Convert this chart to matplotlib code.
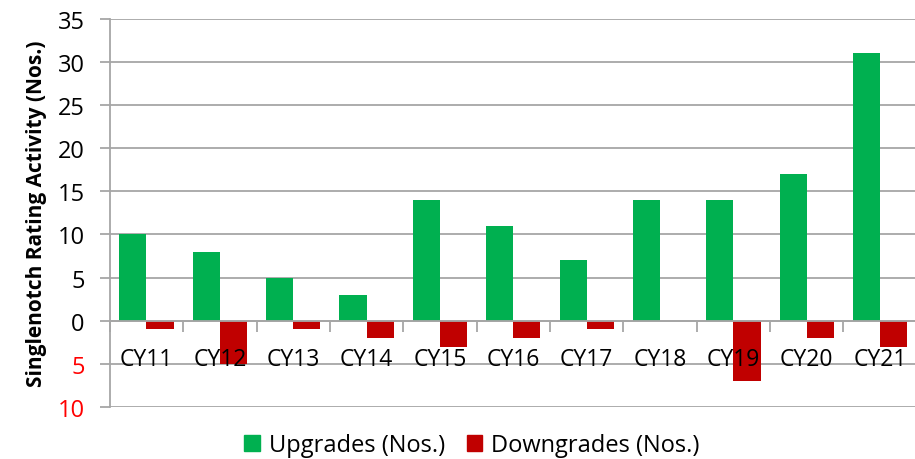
import numpy as np
import matplotlib.pyplot as plt
from matplotlib.patches import Patch

years = ['CY11', 'CY12', 'CY13', 'CY14', 'CY15', 'CY16', 'CY17', 'CY18', 'CY19', 'CY20', 'CY21']
upgrades = [10, 8, 5, 3, 14, 11, 7, 14, 14, 17, 31]
downgrades = [-1, -5, -1, -2, -3, -2, -1, 0, -7, -2, -3]
yticks = [-10, -5, 0, 5, 10, 15, 20, 25, 30, 35]
ytick_labels = ['10', '5', '0', '5', '10', '15', '20', '25', '30', '35']

green = '#00B050'
red = '#C00000'
grid = '#A6A6A6'

plt.rcParams['font.family'] = ['Open Sans', 'DejaVu Sans']

fig = plt.figure(figsize=(9.15, 4.6), dpi=100)
ax = fig.add_axes([0.120, 0.113, 0.882, 0.844])

# grid below bars, axis labels above bars
for v in yticks:
    ax.axhline(v, color=grid, linewidth=1.3, zorder=0)

x = np.arange(len(years))
w = 0.37
ax.bar(x - w/2, upgrades, w, color=green, zorder=1)
ax.bar(x + w/2, downgrades, w, color=red, zorder=1)
ax.set_axisbelow(False)

ax.set_xlim(-0.5, len(years) - 0.5)
ax.set_ylim(-10, 35)
ax.set_yticks(yticks)
ax.set_yticklabels(ytick_labels, fontsize=17)
for lab, v in zip(ax.get_yticklabels(), yticks):
    lab.set_color('#FF0000' if v < 0 else 'black')
ax.tick_params(axis='y', length=7, color=grid, width=1.3, pad=11)

# category axis sits on zero line
ax.spines['bottom'].set_position(('data', 0))
ax.spines['bottom'].set_color(grid)
ax.spines['bottom'].set_linewidth(1.3)
ax.spines['left'].set_color(grid)
ax.spines['left'].set_linewidth(1.3)
ax.spines['top'].set_visible(False)
ax.spines['right'].set_visible(False)

ax.set_xticks(np.arange(len(years) + 1) - 0.5)
ax.set_xticklabels([])
ax.tick_params(axis='x', which='major', length=8, color=grid, width=1.3)
ax.set_xticks(x, minor=True)
ax.set_xticklabels(years, minor=True, fontsize=16.5)
ax.tick_params(axis='x', which='minor', length=0, pad=19)

ax.set_ylabel('Singlenotch Rating Activity (Nos.)', fontsize=15, fontweight='bold', labelpad=8)

handles = [Patch(color=green, label='Upgrades (Nos.)'),
           Patch(color=red, label='Downgrades (Nos.)')]
fig.legend(handles=handles, loc='center', bbox_to_anchor=(0.516, 0.03), ncol=2,
           frameon=False, fontsize=17, handlelength=0.65, handleheight=0.65,
           handletextpad=0.4, columnspacing=0.9)

fig.savefig('out.png', dpi=100)
